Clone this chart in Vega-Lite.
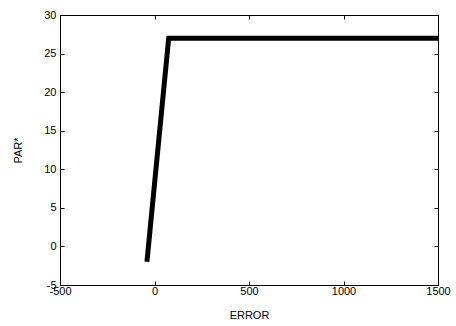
{
  "$schema": "https://vega.github.io/schema/vega-lite/v6.json",
  "width": 378,
  "height": 270,
  "autosize": "none",
  "padding": {"left": 60, "top": 15, "right": 18, "bottom": 41},
  "background": "white",
  "config": {
    "view": {"stroke": "black", "strokeWidth": 1},
    "axis": {
      "grid": false,
      "domainColor": "black",
      "tickColor": "black",
      "tickSize": -4,
      "labelFont": "Liberation Sans",
      "titleFont": "Liberation Sans",
      "labelFontSize": 11,
      "titleFontSize": 11,
      "titleFontWeight": "normal",
      "labelColor": "black",
      "titleColor": "black",
      "labelExpr": "toString(datum.value)"
    }
  },
  "data": {
    "values": [
      {"error": -40, "par": -2},
      {"error": 75, "par": 27},
      {"error": 1500, "par": 27}
    ]
  },
  "resolve": {"axis": {"x": "independent", "y": "independent"}},
  "layer": [
    {
      "mark": {"type": "line", "color": "black", "strokeWidth": 5, "strokeJoin": "miter", "clip": true},
      "encoding": {
        "x": {"field": "error", "type": "quantitative", "scale": {"domain": [-500, 1500], "nice": false, "zero": false},
              "axis": {"title": "ERROR", "values": [-500, 0, 500, 1000, 1500], "labelPadding": 4, "titlePadding": 13, "labelFlush": false}},
        "y": {"field": "par", "type": "quantitative", "scale": {"domain": [-5, 30], "nice": false, "zero": false},
              "axis": {"title": "PAR*", "values": [-5, 0, 5, 10, 15, 20, 25, 30], "labelPadding": 8, "titlePadding": 20, "labelFlush": false}}
      }
    },
    {
      "mark": {"type": "line", "opacity": 0},
      "encoding": {
        "x": {"field": "error", "type": "quantitative", "axis": {"orient": "top", "labels": false, "title": null, "values": [-500, 0, 500, 1000, 1500]}},
        "y": {"field": "par", "type": "quantitative", "axis": {"orient": "right", "labels": false, "title": null, "values": [-5, 0, 5, 10, 15, 20, 25, 30]}}
      }
    }
  ]
}
